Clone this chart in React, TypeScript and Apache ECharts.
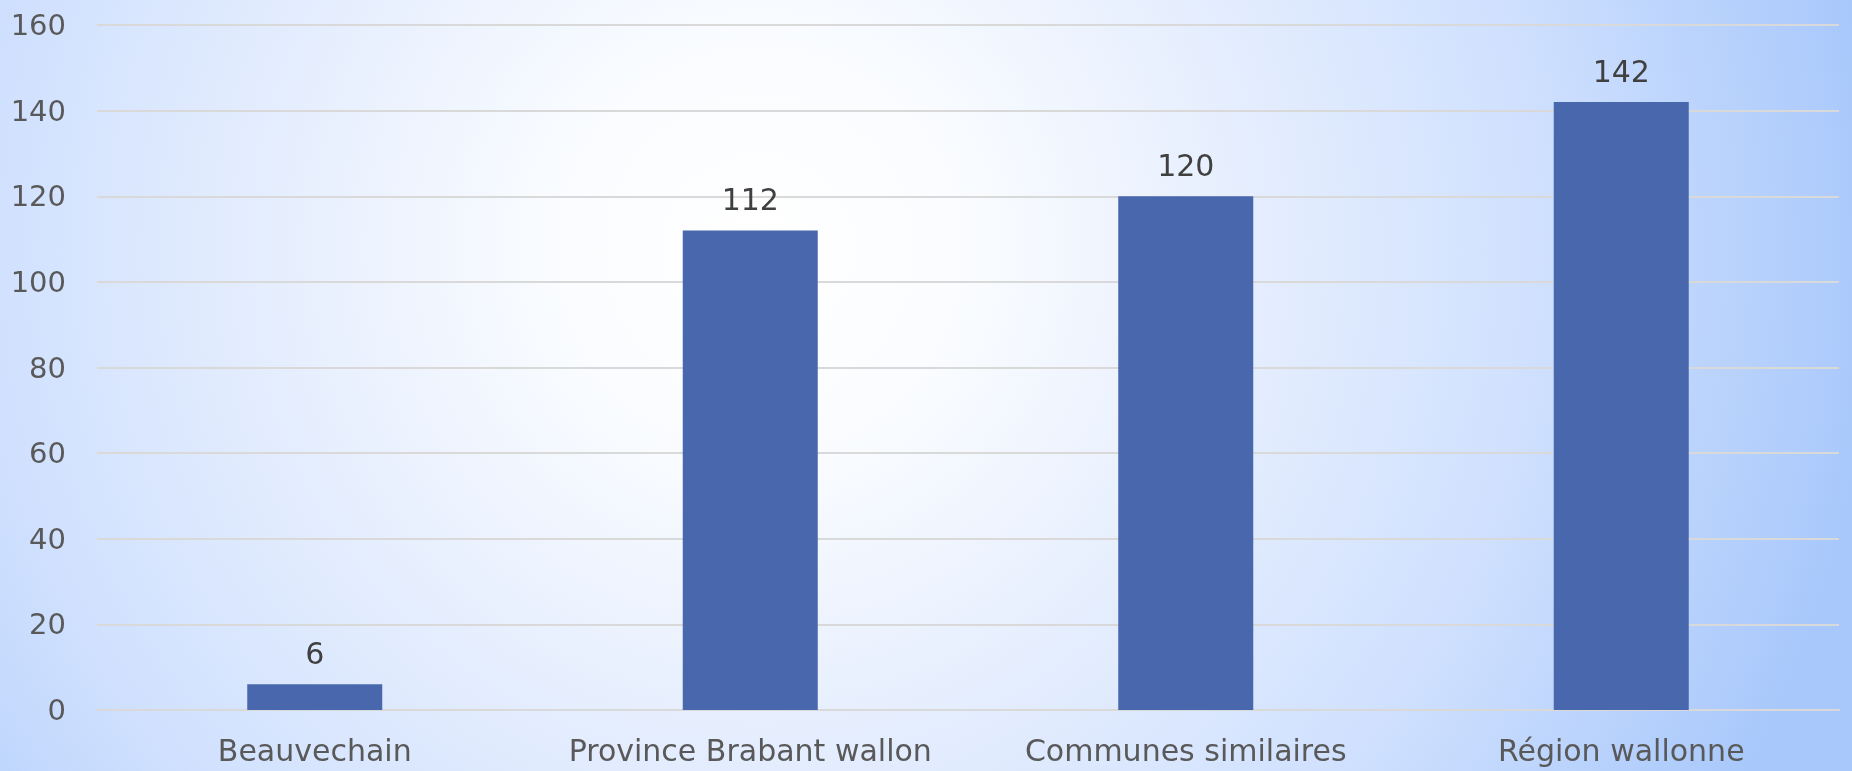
import React, { useEffect, useRef } from "react";
import * as echarts from "echarts";

const categories = ["Beauvechain", "Province Brabant wallon", "Communes similaires", "Région wallonne"];
const values = [6, 112, 120, 142];
const yTicks = [0, 20, 40, 60, 80, 100, 120, 140, 160];

const FONT = "'DejaVu Sans', sans-serif";

export default function App() {
  const ref = useRef<HTMLDivElement>(null);
  useEffect(() => {
    if (!ref.current) return;
    const chart = echarts.init(ref.current, undefined, { renderer: "svg" });
    chart.setOption({
      animation: false,
      graphic: [
        {
          type: "rect",
          z: -10,
          silent: true,
          shape: { x: 0, y: 0, width: 1852, height: 771 },
          style: {
            fill: new echarts.graphic.RadialGradient(
              760,
              250,
              1120,
              [
                { offset: 0, color: "#ffffff" },
                { offset: 0.18, color: "#fafcff" },
                { offset: 0.42, color: "#e7effe" },
                { offset: 0.7, color: "#cfe0fe" },
                { offset: 1, color: "#a8c8fb" },
              ],
              true
            ),
          },
        },
      ],
      grid: { left: 97, right: 13, top: 25, bottom: 61, containLabel: false },
      xAxis: {
        type: "category",
        data: categories,
        axisLine: { show: true, lineStyle: { color: "#d9d9d9", width: 2 } },
        axisTick: { show: false },
        axisLabel: { color: "#595959", fontSize: 30, fontFamily: FONT, margin: 25, interval: 0 },
      },
      yAxis: {
        type: "value",
        min: yTicks[0],
        max: yTicks[yTicks.length - 1],
        interval: 20,
        axisLine: { show: false },
        axisTick: { show: false },
        splitLine: { lineStyle: { color: "#d9d9d9", width: 2 } },
        axisLabel: { color: "#595959", fontSize: 29, fontFamily: FONT, margin: 31 },
      },
      series: [
        {
          type: "bar",
          data: values,
          barWidth: "31%",
          itemStyle: { color: "#4967ad" },
          label: {
            show: true,
            position: "top",
            distance: 16,
            color: "#404040",
            fontSize: 30,
            fontFamily: FONT,
          },
        },
      ],
    });
    return () => chart.dispose();
  }, []);
  return (
    <div
      ref={ref}
      style={{ position: "fixed", left: 0, top: 0, width: 1852, height: 771 }}
    />
  );
}
